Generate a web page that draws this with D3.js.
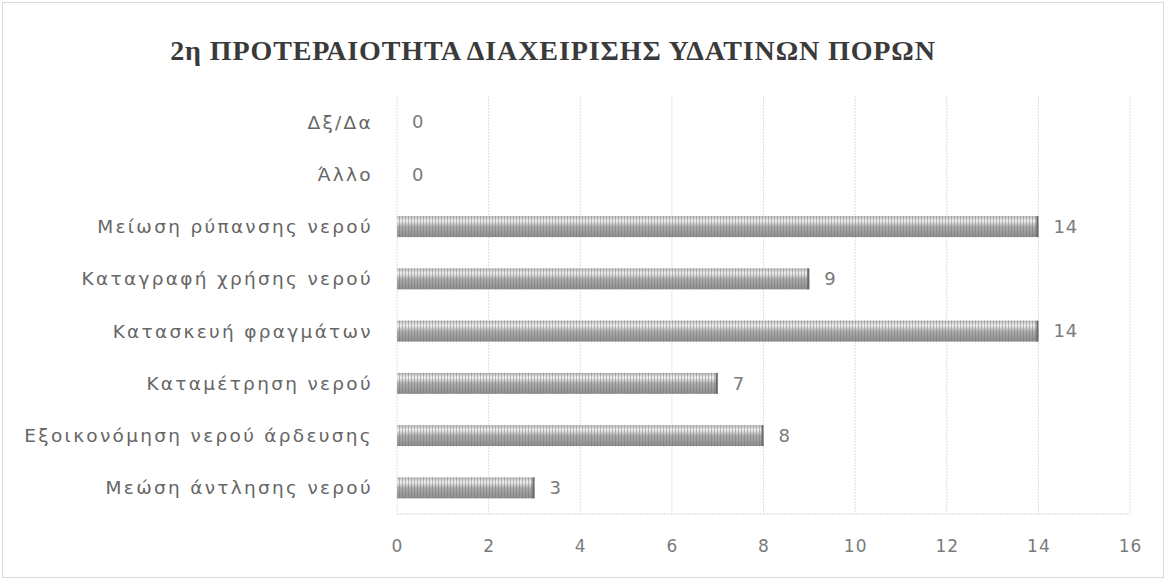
<!DOCTYPE html>
<html>
<head>
<meta charset="utf-8">
<script src="https://cdn.jsdelivr.net/npm/d3@7"></script>
<style>
  body { margin: 0; background: #fff; }
  #chart { width: 1166px; height: 580px; }
</style>
</head>
<body>
<div id="chart"></div>
<script>
// categories, top to bottom as drawn
var categories = [
    "Δξ/Δα",
    "Άλλο",
    "Μείωση ρύπανσης νερού",
    "Καταγραφή χρήσης νερού",
    "Κατασκευή φραγμάτων",
    "Καταμέτρηση νερού",
    "Εξοικονόμηση νερού άρδευσης",
    "Μεώση άντλησης νερού"
];
var values = [0, 0, 14, 9, 14, 7, 8, 3];
var xTicks = [0, 2, 4, 6, 8, 10, 12, 14, 16];
var title = "2η ΠΡΟΤΕΡΑΙΟΤΗΤΑ ΔΙΑΧΕΙΡΙΣΗΣ ΥΔΑΤΙΝΩΝ ΠΟΡΩΝ";

var width = 1166;
var height = 580;
var margin = { top: 96, right: 36, bottom: 66, left: 397 };

var svg = d3.select("#chart").append("svg")
    .attr("width", width)
    .attr("height", height);

var defs = svg.append("defs");

// thin vertical stripes laid over the shaded bars
var pat = defs.append("pattern")
    .attr("id", "stripes")
    .attr("patternUnits", "userSpaceOnUse")
    .attr("width", 3).attr("height", 40);
pat.append("rect").attr("x", 0).attr("width", 1).attr("height", 40)
    .attr("fill", "#6e6e6e").attr("opacity", 0.4);

// outer frame
svg.append("rect")
    .attr("x", 2.5).attr("y", 2.5)
    .attr("width", width - 5).attr("height", height - 5)
    .attr("fill", "none")
    .attr("stroke", "#dadada");

svg.append("text")
    .attr("x", 553)
    .attr("y", 60)
    .attr("text-anchor", "middle")
    .style("font-family", "'Liberation Serif', 'DejaVu Serif', serif")
    .style("font-weight", "bold")
    .style("font-size", "28px")
    .style("letter-spacing", "0.9px")
    .style("fill", "#3a3a3a")
    .text(title);

var x = d3.scaleLinear()
    .domain([0, 16])
    .range([margin.left, width - margin.right]);

var y = d3.scaleBand()
    .domain(categories)
    .range([margin.top, height - margin.bottom])
    .paddingInner(0.6)
    .paddingOuter(0.3);

// gridlines
svg.selectAll("line.grid")
    .data(xTicks)
    .enter()
    .append("line")
    .attr("class", "grid")
    .attr("x1", d => x(d))
    .attr("x2", d => x(d))
    .attr("y1", margin.top)
    .attr("y2", height - margin.bottom)
    .style("stroke", "#e0e0e0")
    .style("stroke-dasharray", "2,1")
    .style("stroke-width", 1);

svg.append("line")
    .attr("x1", x(0)).attr("x2", x(16))
    .attr("y1", height - margin.bottom).attr("y2", height - margin.bottom)
    .style("stroke", "#d6d6d6")
    .style("stroke-dasharray", "2,1");

// one gradient per bar, in user space
categories.forEach(function (c, i) {
    var g = defs.append("linearGradient")
        .attr("id", "g" + i)
        .attr("gradientUnits", "userSpaceOnUse")
        .attr("x1", 0).attr("x2", 0)
        .attr("y1", y(c)).attr("y2", y(c) + y.bandwidth());
    g.append("stop").attr("offset", "0%").attr("stop-color", "#b8b8b8");
    g.append("stop").attr("offset", "22%").attr("stop-color", "#f0f0f0");
    g.append("stop").attr("offset", "50%").attr("stop-color", "#acacac");
    g.append("stop").attr("offset", "100%").attr("stop-color", "#8e8e8e");
});

var bars = svg.selectAll("g.bar")
    .data(values)
    .enter()
    .append("g")
    .attr("class", "bar");

bars.append("rect")
    .attr("x", x(0))
    .attr("y", (d, i) => y(categories[i]))
    .attr("width", d => x(d) - x(0))
    .attr("height", y.bandwidth())
    .attr("fill", (d, i) => "url(#g" + i + ")");

bars.append("rect")
    .attr("x", x(0))
    .attr("y", (d, i) => y(categories[i]))
    .attr("width", d => x(d) - x(0))
    .attr("height", y.bandwidth())
    .attr("fill", "url(#stripes)");

bars.append("line")
    .attr("x1", d => x(d) - 1)
    .attr("x2", d => x(d) - 1)
    .attr("y1", (d, i) => y(categories[i]))
    .attr("y2", (d, i) => y(categories[i]) + y.bandwidth())
    .style("stroke", d => d > 0 ? "#6a6a6a" : "none")
    .style("stroke-width", 2);

// value labels
svg.selectAll("text.val")
    .data(values)
    .enter()
    .append("text")
    .attr("class", "val")
    .attr("x", d => x(d) + 15)
    .attr("y", (d, i) => y(categories[i]) + y.bandwidth() / 2)
    .attr("dy", "0.35em")
    .style("font-family", "'DejaVu Sans', sans-serif")
    .style("font-size", "18px")
    .style("letter-spacing", "1px")
    .style("fill", "#7a7a7a")
    .text(d => d);

// category labels
svg.selectAll("text.cat")
    .data(categories)
    .enter()
    .append("text")
    .attr("class", "cat")
    .attr("x", 373)
    .attr("y", d => y(d) + y.bandwidth() / 2)
    .attr("dy", "0.35em")
    .attr("text-anchor", "end")
    .style("font-family", "'DejaVu Sans', sans-serif")
    .style("font-size", "18.5px")
    .style("letter-spacing", "2.3px")
    .style("fill", "#666")
    .text(d => d);

// x axis
var xAxis = d3.axisBottom(x).tickValues(xTicks).tickSize(0).tickPadding(26);
var ax = svg.append("g")
    .attr("transform", "translate(0," + (height - margin.bottom) + ")")
    .call(xAxis);
ax.select(".domain").remove();
ax.selectAll("text")
    .style("font-family", "'DejaVu Sans', sans-serif")
    .style("font-size", "17px")
    .style("letter-spacing", "1px")
    .style("fill", "#7a7a7a");
</script>
</body>
</html>
